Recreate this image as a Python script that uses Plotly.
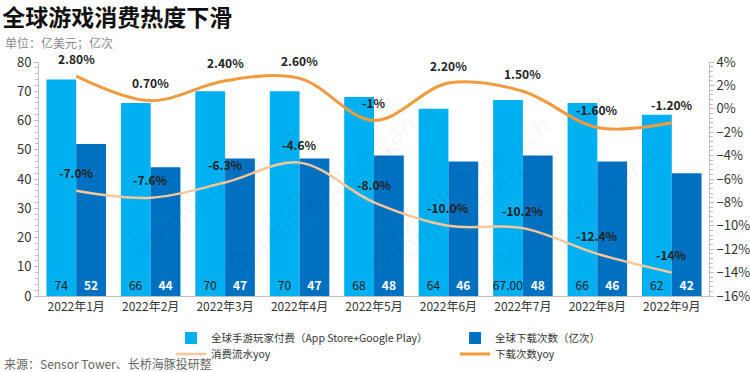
import plotly.graph_objects as go

months = ["2022年1月", "2022年2月", "2022年3月", "2022年4月", "2022年5月",
          "2022年6月", "2022年7月", "2022年8月", "2022年9月"]
spend = [74, 66, 70, 70, 68, 64, 67, 66, 62]
spend_text = ["74", "66", "70", "70", "68", "64", "67.00", "66", "62"]
downloads = [52, 44, 47, 47, 48, 46, 48, 46, 42]
spend_yoy = [-7.0, -7.6, -6.3, -4.6, -8.0, -10.0, -10.2, -12.4, -14.0]
spend_yoy_text = ["-7.0%", "-7.6%", "-6.3%", "-4.6%", "-8.0%", "-10.0%", "-10.2%", "-12.4%", "-14%"]
dl_yoy = [2.8, 0.7, 2.4, 2.6, -1.0, 2.2, 1.5, -1.6, -1.2]
dl_yoy_text = ["2.80%", "0.70%", "2.40%", "2.60%", "-1%", "2.20%", "1.50%", "-1.60%", "-1.20%"]

FONT = "Noto Sans CJK SC"
LIGHT_BLUE = "#00B0F0"
DARK_BLUE = "#0070C0"
DARK_ORANGE = "#F39A3E"
LIGHT_ORANGE = "#F8C79A"

fig = go.Figure()
fig.add_trace(go.Bar(
    x=months, y=spend, name="全球手游玩家付费（App Store+Google Play）",
    marker=dict(color=LIGHT_BLUE, line=dict(width=0)),
    text=spend_text, textposition="inside", insidetextanchor="start",
    textangle=0, constraintext="none",
    textfont=dict(color="#1a1a1a", size=12, family=FONT), legend="legend"))
fig.add_trace(go.Bar(
    x=months, y=downloads, name="全球下载次数（亿次）",
    marker=dict(color=DARK_BLUE, line=dict(width=0)),
    text=[str(v) for v in downloads], textposition="inside", insidetextanchor="start",
    textangle=0, constraintext="none",
    textfont=dict(color="white", size=12, family=FONT, weight="bold"), legend="legend2"))
fig.add_trace(go.Scatter(
    x=months, y=spend_yoy, name="消费流水yoy", mode="lines", yaxis="y2",
    line=dict(color=LIGHT_ORANGE, width=2.5, shape="spline"), legend="legend3"))
fig.add_trace(go.Scatter(
    x=months, y=dl_yoy, name="下载次数yoy", mode="lines", yaxis="y2",
    line=dict(color=DARK_ORANGE, width=3, shape="spline"), legend="legend4"))

annotations = []
for m, v, t in zip(months, dl_yoy, dl_yoy_text):
    annotations.append(dict(x=m, y=v, xref="x", yref="y2", text=t, showarrow=False,
                            yshift=18, font=dict(size=12, color="#222", family=FONT, weight="bold")))
for m, v, t in zip(months, spend_yoy, spend_yoy_text):
    annotations.append(dict(x=m, y=v, xref="x", yref="y2", text=t, showarrow=False,
                            yshift=18, font=dict(size=12, color="#222", family=FONT, weight="bold")))

# subtitle and source
annotations.append(dict(x=-0.0537, y=1.085, xref="paper", yref="paper", xanchor="left",
                        yanchor="middle", text="单位：亿美元；亿次", showarrow=False,
                        font=dict(size=12, color="#8c8c8c", family=FONT)))
annotations.append(dict(x=-0.0552, y=-0.287, xref="paper", yref="paper", xanchor="left",
                        yanchor="middle", text="来源：Sensor Tower、长桥海豚投研整", showarrow=False,
                        font=dict(size=12, color="#666", family=FONT)))

# faint watermarks
for (wx, wy) in [(0.12, 0.78), (0.46, 0.88), (0.78, 0.82), (0.27, 0.05), (0.62, 0.02), (0.95, 0.05)]:
    annotations.append(dict(x=wx, y=wy, xref="paper", yref="paper", text="DolphinResearch",
                            showarrow=False, textangle=-35,
                            font=dict(size=26, color="rgba(0,0,0,0.05)", family="Open Sans")))

legend_common = dict(xanchor="left", yanchor="top", orientation="v",
                     font=dict(size=10.5, color="#333"), bgcolor="rgba(0,0,0,0)",
                     itemwidth=30, tracegroupgap=0)

fig.update_layout(
    width=750, height=372,
    margin=dict(l=39, r=41, t=62, b=76, autoexpand=False),
    paper_bgcolor="white", plot_bgcolor="white",
    barmode="group", bargap=0.2, bargroupgap=0,
    font=dict(family=FONT, size=12, color="#333"),
    title=dict(text="<b>全球游戏消费热度下滑</b>", x=0.003, xref="container", xanchor="left",
               y=0.951, yref="container", yanchor="middle",
               font=dict(size=23, color="#111", family=FONT)),
    xaxis=dict(showline=True, linecolor="#bfbfbf", linewidth=1, ticks="",
               tickfont=dict(size=12, color="#333"), showgrid=False),
    yaxis=dict(range=[0, 80], dtick=10, showgrid=False, zeroline=False,
               showline=True, linecolor="#bfbfbf", linewidth=1,
               ticks="outside", ticklen=4, tickcolor="#bfbfbf",
               minor=dict(dtick=2, ticks="outside", ticklen=3, tickcolor="#bfbfbf"),
               tickfont=dict(size=13, color="#333")),
    yaxis2=dict(range=[-16, 4], dtick=2, overlaying="y", side="right", showgrid=False,
                zeroline=False, showline=True, linecolor="#bfbfbf", linewidth=1,
                ticks="outside", ticklen=4, tickcolor="#bfbfbf", ticksuffix="%",
                minor=dict(dtick=0.4, ticks="outside", ticklen=3, tickcolor="#bfbfbf"),
                tickfont=dict(size=13, color="#333")),
    legend=dict(x=0.197, y=-0.118, **legend_common),
    legend2=dict(x=0.621, y=-0.118, **legend_common),
    legend3=dict(x=0.197, y=-0.186, **legend_common),
    legend4=dict(x=0.621, y=-0.186, **legend_common),
    annotations=annotations,
    showlegend=True,
)

fig.write_html("out.html", config={"displayModeBar": False},
               post_script="document.body.style.margin='0';")
